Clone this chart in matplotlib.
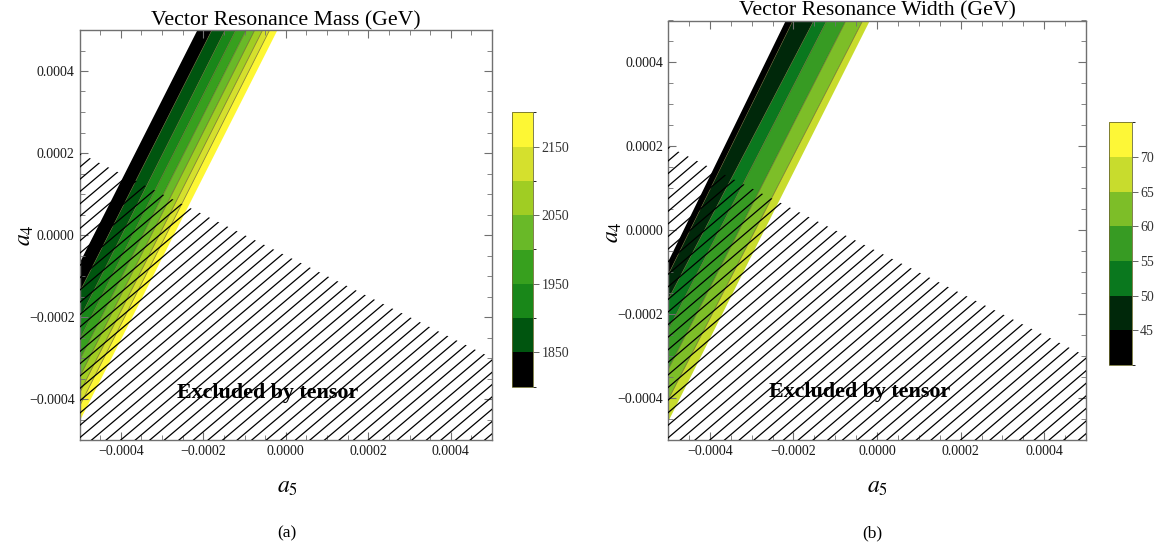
import matplotlib
matplotlib.use('Agg')
import matplotlib.pyplot as plt
import numpy as np
from matplotlib.patches import Polygon
from matplotlib.ticker import FixedLocator, MultipleLocator
from matplotlib.colors import ListedColormap, BoundaryNorm
import matplotlib as mpl

plt.rcParams['font.family'] = ['Liberation Serif', 'DejaVu Serif']
plt.rcParams['mathtext.fontset'] = 'stix'

# ---------------- data ----------------
a_min, a_max = -0.0005, 0.0005
ticks = [-0.0004, -0.0002, 0.0, 0.0002, 0.0004]
tick_labels = ['\u22120.0004', '\u22120.0002', '0.0000', '0.0002', '0.0004']

# Mass panel: contour levels / colours
mass_levels = [1800, 1850, 1900, 1950, 2000, 2050, 2100, 2150, 2200]
mass_colors = ['#000000', '#00550f', '#198719', '#37a01e', '#69b928',
               '#a0cd23', '#d5e02d', '#fdf734']
mass_cticks = [1850, 1950, 2050, 2150]
# contour boundaries: a5 where they meet a4 = +0.0005, a4 where they meet a5 = -0.0005
mass_edges_top = [-0.000214, -0.000179, -0.000147, -0.000121, -0.000096,
                  -0.000075, -0.000056, -0.000039, -0.000020]
mass_edges_left = [-0.000069, -0.000140, -0.000205, -0.000256, -0.000306,
                   -0.000347, -0.000386, -0.000418, -0.000455]

# Width panel
width_levels = [40, 45, 50, 55, 60, 65, 70, 75]
width_colors = ['#000000', '#00280a', '#0a781e', '#379b23', '#7dbe28',
                '#c8dc2d', '#fdf737']
width_cticks = [45, 50, 55, 60, 65, 70]
width_edges_top = [-0.000218, -0.000201, -0.000151, -0.000120, -0.000074,
                   -0.000034, -0.000017]
width_edges_left = [-0.000076, -0.000107, -0.000166, -0.000238, -0.000333,
                    -0.000405, -0.000457]

# Excluded-by-tensor region: upper boundary line
excl_a5 = [-0.0005, 0.0005]
excl_a4 = [0.0002, -0.0003]

titles = ['Vector Resonance Mass (GeV)', 'Vector Resonance Width (GeV)']
captions = ['(a)', '(b)']

# ---------------- figure ----------------
W, H = 1161, 554
fig = plt.figure(figsize=(W / 100, H / 100), dpi=100)


def fx(px):
    return px / W


def fy(py):
    return 1 - py / H


spine_col = '#707070'


def panel(rect, edges_top, edges_left, colors, text_a5):
    ax = fig.add_axes(rect)
    # colour bands
    for i in range(len(edges_top) - 1):
        xs = [edges_top[i], edges_top[i + 1], a_min, a_min]
        ys = [a_max, a_max, edges_left[i + 1], edges_left[i]]
        ax.fill(xs, ys, color=colors[i], lw=0, zorder=1)
    for i in range(1, len(edges_top) - 1):
        ax.plot([edges_top[i], a_min], [a_max, edges_left[i]],
                color='#5c5424', lw=0.5, alpha=0.8, zorder=2)
    # hatched excluded region
    poly = Polygon([(excl_a5[0], excl_a4[0]), (excl_a5[1], excl_a4[1]),
                    (a_max, a_min), (a_min, a_min)],
                   closed=True, facecolor='none', edgecolor='none')
    ax.add_patch(poly)
    slope = 0.85
    step = 0.00003
    for c in np.arange(-0.0016, 0.0016, step):
        ln, = ax.plot([a_min, a_max], [slope * a_min + c, slope * a_max + c],
                      color='black', lw=0.9, zorder=3)
        ln.set_clip_path(poly)
    ax.text(text_a5, -0.000385, 'Excluded by tensor', ha='center', va='center',
            fontsize=15.8, fontweight='bold', zorder=4)
    ax.set_xlim(a_min, a_max)
    ax.set_ylim(a_min, a_max)
    ax.xaxis.set_major_locator(FixedLocator(ticks))
    ax.yaxis.set_major_locator(FixedLocator(ticks))
    ax.set_xticklabels(tick_labels)
    ax.set_yticklabels(tick_labels)
    ax.xaxis.set_minor_locator(MultipleLocator(0.00005))
    ax.yaxis.set_minor_locator(MultipleLocator(0.00005))
    ax.tick_params(which='both', direction='in', top=True, right=True,
                   color=spine_col, labelsize=10, labelcolor='#1a1a1a')
    ax.tick_params(which='major', length=6, width=0.8)
    ax.tick_params(which='minor', length=3.5, width=0.6)
    for s in ax.spines.values():
        s.set_color(spine_col)
        s.set_linewidth(1.0)
    return ax


# left panel
axL = panel([fx(79.5), fy(440), fx(492 - 79.5), (440 - 30) / H],
            mass_edges_top, mass_edges_left, mass_colors, -0.000043)
axR = panel([fx(668), fy(440), fx(1086 - 668), (440 - 20.5) / H],
            width_edges_top, width_edges_left, width_colors, -0.000041)

fig.text(fx(285.7), fy(25), titles[0], ha='center', va='baseline', fontsize=15.7)
fig.text(fx(877), fy(15), titles[1], ha='center', va='baseline', fontsize=15.7)

fig.text(fx(288), fy(488), '$a_5$', ha='center', va='center', fontsize=17)
fig.text(fx(878), fy(488), '$a_5$', ha='center', va='center', fontsize=17)
fig.text(fx(25), fy(235), '$a_4$', ha='center', va='center', fontsize=17, rotation=90)
fig.text(fx(613), fy(232), '$a_4$', ha='center', va='center', fontsize=17, rotation=90)

fig.text(fx(287), fy(533), captions[0], ha='center', va='center', fontsize=12.5)
fig.text(fx(872), fy(533), captions[1], ha='center', va='center', fontsize=12.5)


def cbar(rect, levels, colors, cticks):
    cax = fig.add_axes(rect)
    cmap = ListedColormap(colors)
    norm = BoundaryNorm(levels, cmap.N)
    cb = mpl.colorbar.ColorbarBase(cax, cmap=cmap, norm=norm, boundaries=levels,
                                   ticks=cticks, orientation='vertical')
    cb.outline.set_edgecolor('#6b6b30')
    cb.outline.set_linewidth(0.6)
    cax.tick_params(direction='out', length=4, width=0.7, color='#666666',
                    labelsize=10, labelcolor='#333333', pad=2)
    return cb


cbar([fx(512.3), fy(386.7), fx(21), (386.7 - 112.3) / H], mass_levels, mass_colors, mass_cticks)
cbar([fx(1109), fy(365), fx(22.7), (365 - 122.3) / H], width_levels, width_colors, width_cticks)

fig.savefig('out.png', dpi=100)
